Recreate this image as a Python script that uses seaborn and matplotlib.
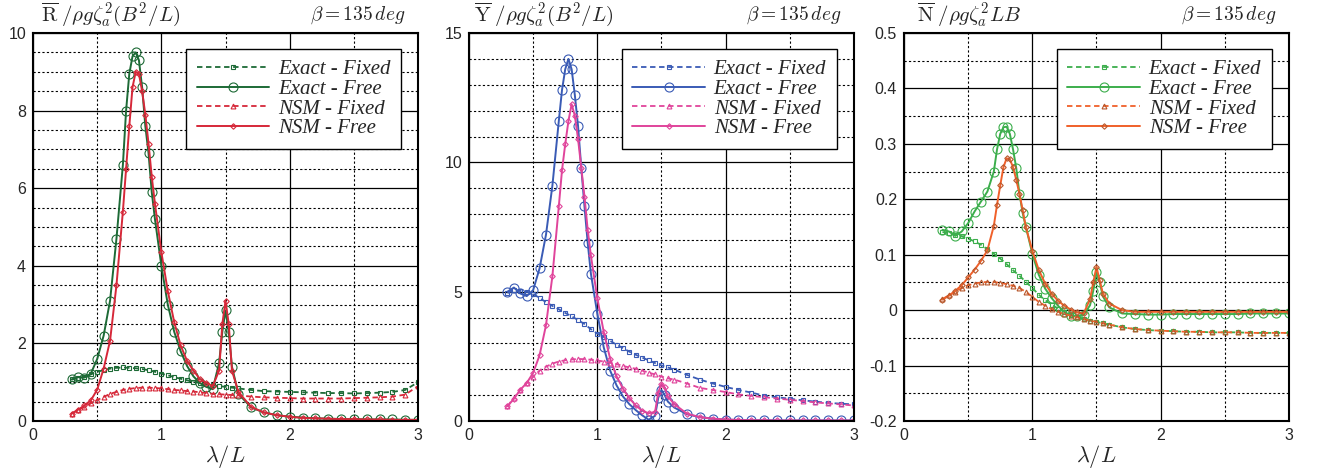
import matplotlib
matplotlib.use("Agg")
import matplotlib.pyplot as plt
import matplotlib.ticker as mticker
import seaborn as sns

# wave length ratio lambda/L
x_free = [0.3, 0.35, 0.4, 0.45, 0.5, 0.55, 0.6, 0.65, 0.7, 0.725, 0.75, 0.775, 0.8, 0.825,
          0.85, 0.875, 0.9, 0.925, 0.95, 1.0, 1.05, 1.1, 1.15, 1.2, 1.25, 1.3, 1.35, 1.4,
          1.45, 1.475, 1.5, 1.525, 1.55, 1.6, 1.7, 1.8, 1.9, 2.0, 2.1, 2.2, 2.3, 2.4, 2.5,
          2.6, 2.7, 2.8, 2.9, 3.0]
x_fixed = [0.3, 0.35, 0.4, 0.45, 0.5, 0.55, 0.6, 0.65, 0.7, 0.75, 0.8, 0.85, 0.9, 0.95,
           1.0, 1.05, 1.1, 1.15, 1.2, 1.25, 1.3, 1.35, 1.4, 1.45, 1.5, 1.55, 1.6, 1.7, 1.8,
           1.9, 2.0, 2.1, 2.2, 2.3, 2.4, 2.5, 2.6, 2.7, 2.8, 2.9, 3.0]

# surge drift force R
r_exact_fixed = [1.07, 1.10, 1.14, 1.20, 1.27, 1.31, 1.35, 1.37, 1.38, 1.37, 1.36, 1.34, 1.31,
                 1.27, 1.22, 1.18, 1.13, 1.09, 1.05, 1.01, 0.98, 0.95, 0.92, 0.90, 0.88, 0.86,
                 0.84, 0.80, 0.77, 0.76, 0.75, 0.74, 0.73, 0.72, 0.72, 0.71, 0.72, 0.73, 0.75,
                 0.80, 1.0]
r_exact_free = [1.07, 1.13, 1.12, 1.22, 1.60, 2.2, 3.1, 4.7, 6.6, 8.0, 8.95, 9.4, 9.5, 9.3,
                8.6, 7.6, 6.9, 5.9, 5.2, 4.0, 3.0, 2.3, 1.8, 1.42, 1.15, 0.98, 0.88, 0.82,
                1.5, 2.3, 2.85, 2.3, 1.4, 0.7, 0.35, 0.22, 0.15, 0.11, 0.09, 0.07, 0.06, 0.05,
                0.05, 0.04, 0.04, 0.04, 0.03, 0.03]
r_nsm_fixed = [0.19, 0.28, 0.37, 0.46, 0.54, 0.62, 0.70, 0.75, 0.80, 0.83, 0.85, 0.86, 0.86,
               0.85, 0.84, 0.82, 0.80, 0.79, 0.77, 0.76, 0.74, 0.72, 0.70, 0.69, 0.68, 0.67,
               0.66, 0.63, 0.61, 0.60, 0.59, 0.58, 0.58, 0.58, 0.58, 0.59, 0.60, 0.61, 0.63,
               0.68, 0.90]
r_nsm_free = [0.19, 0.29, 0.40, 0.53, 0.81, 1.35, 2.07, 3.5, 5.4, 6.5, 7.6, 8.6, 9.0, 8.95,
              8.5, 7.9, 7.15, 6.3, 5.6, 4.35, 3.35, 2.55, 1.95, 1.55, 1.3, 1.08, 0.98, 0.90,
              1.3, 2.5, 3.1, 2.5, 1.3, 0.75, 0.36, 0.22, 0.15, 0.11, 0.08, 0.07, 0.06, 0.05,
              0.05, 0.04, 0.04, 0.03, 0.03, 0.03]

# sway drift force Y
y_exact_fixed = [4.95, 5.05, 5.03, 5.0, 4.92, 4.75, 4.6, 4.45, 4.32, 4.18, 4.05, 3.9, 3.75,
                 3.55, 3.38, 3.25, 3.1, 2.95, 2.82, 2.68, 2.56, 2.45, 2.35, 2.24, 2.15, 2.07,
                 1.99, 1.78, 1.6, 1.45, 1.32, 1.2, 1.1, 0.98, 0.92, 0.86, 0.8, 0.75, 0.7,
                 0.67, 0.64]
y_exact_free = [5.0, 5.16, 4.93, 4.83, 5.06, 5.9, 7.2, 9.1, 11.6, 12.8, 13.6, 14.0, 13.6,
                12.6, 11.4, 9.8, 8.3, 6.9, 5.7, 4.15, 2.85, 1.95, 1.38, 0.95, 0.65, 0.42, 0.22,
                0.05, 0.2, 0.9, 1.2, 1.0, 0.75, 0.52, 0.26, 0.15, 0.09, 0.05, 0.04, 0.03, 0.03,
                0.02, 0.02, 0.02, 0.02, 0.02, 0.02, 0.02]
y_nsm_fixed = [0.57, 0.9, 1.2, 1.47, 1.7, 1.95, 2.1, 2.22, 2.3, 2.35, 2.38, 2.4, 2.39, 2.37,
               2.34, 2.3, 2.25, 2.2, 2.13, 2.07, 2.02, 1.95, 1.87, 1.8, 1.72, 1.65, 1.6, 1.45,
               1.28, 1.2, 1.12, 1.03, 0.97, 0.92, 0.87, 0.82, 0.77, 0.72, 0.68, 0.64, 0.6]
y_nsm_free = [0.57, 0.86, 1.21, 1.47, 1.86, 2.54, 3.7, 5.6, 8.3, 9.7, 10.7, 11.6, 12.25, 11.8,
              10.9, 9.8, 8.67, 7.4, 6.4, 4.75, 3.45, 2.41, 1.73, 1.25, 0.88, 0.6, 0.4, 0.3,
              0.35, 1.1, 1.45, 1.3, 0.95, 0.65, 0.28, 0.15, 0.09, 0.06, 0.04, 0.03, 0.03,
              0.02, 0.02, 0.02, 0.02, 0.02, 0.02, 0.02]

# yaw drift moment N
n_exact_fixed = [0.141, 0.139, 0.136, 0.133, 0.129, 0.124, 0.118, 0.110, 0.102, 0.093, 0.083,
                 0.072, 0.062, 0.051, 0.040, 0.028, 0.018, 0.010, 0.003, -0.003, -0.008,
                 -0.012, -0.016, -0.019, -0.021, -0.024, -0.026, -0.031, -0.034, -0.036,
                 -0.037, -0.038, -0.039, -0.039, -0.040, -0.040, -0.040, -0.041, -0.041,
                 -0.041, -0.041]
n_exact_free = [0.145, 0.142, 0.134, 0.142, 0.157, 0.178, 0.196, 0.214, 0.25, 0.29, 0.318,
                0.33, 0.331, 0.318, 0.29, 0.256, 0.21, 0.175, 0.15, 0.102, 0.064, 0.039,
                0.022, 0.008, -0.003, -0.010, -0.011, -0.009, 0.009, 0.035, 0.069, 0.05,
                0.025, 0.005, -0.006, -0.007, -0.008, -0.008, -0.007, -0.007, -0.007, -0.007,
                -0.007, -0.007, -0.006, -0.006, -0.006, -0.006]
n_nsm_fixed = [0.020, 0.027, 0.033, 0.040, 0.045, 0.048, 0.050, 0.051, 0.051, 0.049, 0.047,
               0.044, 0.040, 0.033, 0.024, 0.015, 0.008, 0.002, -0.003, -0.007, -0.010,
               -0.013, -0.016, -0.019, -0.021, -0.024, -0.026, -0.031, -0.034, -0.036,
               -0.037, -0.038, -0.039, -0.039, -0.040, -0.040, -0.040, -0.041, -0.041,
               -0.041, -0.041]
n_nsm_free = [0.019, 0.026, 0.035, 0.045, 0.059, 0.073, 0.089, 0.108, 0.152, 0.19, 0.225,
              0.258, 0.274, 0.272, 0.258, 0.235, 0.21, 0.18, 0.15, 0.107, 0.073, 0.048, 0.03,
              0.017, 0.008, 0.001, -0.004, -0.006, 0.02, 0.05, 0.078, 0.054, 0.03, 0.012,
              0.0, -0.003, -0.003, -0.003, -0.003, -0.003, -0.003, -0.003, -0.003, -0.003,
              -0.003, -0.003, -0.003, -0.003]

labels = ['Exact - Fixed', 'Exact - Free', 'NSM - Fixed', 'NSM - Free']
titles = [r'$\overline{\mathrm{R}}\;/\rho g\zeta_a^2(B^2/L)$',
          r'$\overline{\mathrm{Y}}\;/\rho g\zeta_a^2(B^2/L)$',
          r'$\overline{\mathrm{N}}\;/\rho g\zeta_a^2LB$']

sns.set_style("white")
plt.rcParams['font.family'] = ['Liberation Sans', 'DejaVu Sans']
plt.rcParams['font.serif'] = ['Liberation Serif', 'DejaVu Serif']
plt.rcParams['mathtext.fontset'] = 'cm'
plt.rcParams['axes.unicode_minus'] = False

fig = plt.figure(figsize=(13.17, 4.68), dpi=100)
lefts = [0.0251, 0.3561, 0.6864]
axes = [fig.add_axes([l, 0.1004, 0.2923, 0.829]) for l in lefts]

panels = [
    (r_exact_fixed, r_exact_free, r_nsm_fixed, r_nsm_free, '#1d6a36', '#d62839', '#d62839',
     (0, 10), 2, 0.5),
    (y_exact_fixed, y_exact_free, y_nsm_fixed, y_nsm_free, '#3a5bb5', '#e0449b', '#e0449b',
     (0, 15), 5, 1),
    (n_exact_fixed, n_exact_free, n_nsm_fixed, n_nsm_free, '#3cae4c', '#f0602a', '#b8582c',
     (-0.2, 0.5), 0.1, 0.05),
]
title_x = [0.02, 0.013, 0.034]

for i, (ax, p) in enumerate(zip(axes, panels)):
    ef, efr, nf, nfr, c1, c2, c2m, ylim, ymaj, ymin = p
    sns.lineplot(x=x_fixed, y=ef, ax=ax, color=c1, ls=(0, (3, 2)), lw=1.3, marker='s', ms=3,
                 mfc='none', mec=c1, mew=0.8, label=labels[0])
    sns.lineplot(x=x_free, y=efr, ax=ax, color=c1, lw=1.4, marker='o', ms=6.5, mfc='none',
                 mec=c1, mew=0.8, label=labels[1])
    sns.lineplot(x=x_fixed, y=nf, ax=ax, color=c2, ls=(0, (3, 2)), lw=1.3, marker='^', ms=3.5,
                 mfc='none', mec=c2m, mew=0.8, label=labels[2])
    sns.lineplot(x=x_free, y=nfr, ax=ax, color=c2, lw=1.4, marker='D', ms=2.8, mfc='none',
                 mec=c2m, mew=0.8, label=labels[3])

    ax.set_xlim(0, 3)
    ax.set_ylim(*ylim)
    ax.xaxis.set_major_locator(mticker.MultipleLocator(1))
    ax.xaxis.set_minor_locator(mticker.MultipleLocator(0.5))
    ax.yaxis.set_major_locator(mticker.MultipleLocator(ymaj))
    ax.yaxis.set_minor_locator(mticker.MultipleLocator(ymin))
    ax.yaxis.set_major_formatter(mticker.FuncFormatter(lambda v, pos: '%g' % round(v, 3)))
    ax.set_axisbelow(True)
    ax.grid(which='major', color='black', lw=0.9, ls='-')
    ax.grid(which='minor', color='black', lw=0.8, ls=(0, (2, 2)))
    ax.tick_params(which='both', length=0, labelsize=11.5, pad=5)
    for s in ax.spines.values():
        s.set_color('black')
        s.set_linewidth(1.5)

    ax.set_xlabel(r'$\lambda/L$', fontsize=16, labelpad=0)
    ax.set_ylabel('')
    ax.text(title_x[i], 1.048, titles[i], transform=ax.transAxes, fontsize=15,
            ha='left', va='center')
    ax.text(0.968, 1.046, r'$\beta=135\,deg$', transform=ax.transAxes, fontsize=14,
            ha='right', va='center')

    leg = ax.legend(loc='upper right', bbox_to_anchor=(0.955, 0.958), borderaxespad=0,
                    prop={'family': 'serif', 'style': 'italic', 'size': 15},
                    handlelength=3.5, labelspacing=0.0, borderpad=0.5,
                    fancybox=False, framealpha=1, edgecolor='black', handletextpad=0.4)
    leg.get_frame().set_linewidth(1.0)

fig.savefig('out.png', dpi=100)
